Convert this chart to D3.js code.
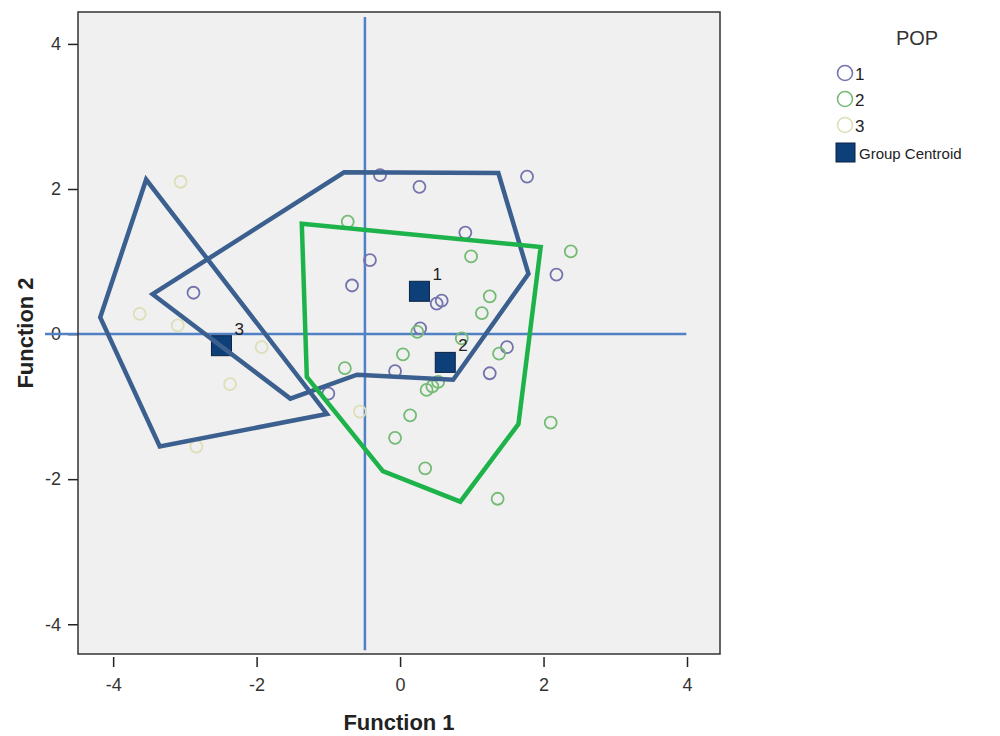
<!DOCTYPE html>
<html>
<head>
<meta charset="utf-8">
<script src="https://cdn.jsdelivr.net/npm/d3@7.9.0/dist/d3.min.js"></script>
<style>
  body { margin: 0; background: #fff; }
  svg { display: block; font-family: Arial, "Liberation Sans", sans-serif; }
</style>
</head>
<body>
<div id="chart"></div>
<script>
// ---------- Data ----------
const xTicks = [-4, -2, 0, 2, 4];
const yTicks = [-4, -2, 0, 2, 4];

// discriminant scores per group: [function1, function2]
const pop1 = [
  [-0.28, 2.19], [0.27, 2.03], [1.77, 2.17], [0.91, 1.40], [2.18, 0.82],
  [-0.42, 1.02], [-0.67, 0.67], [0.51, 0.42], [0.58, 0.46], [0.28, 0.08],
  [-2.88, 0.57], [1.49, -0.18], [1.25, -0.54], [-0.07, -0.51], [-1.00, -0.82]
];
const pop2 = [
  [-0.73, 1.55], [0.99, 1.07], [2.38, 1.14], [1.25, 0.52], [1.14, 0.29],
  [0.24, 0.03], [0.86, -0.06], [1.38, -0.27], [0.04, -0.28], [-0.77, -0.47],
  [0.37, -0.77], [0.45, -0.72], [0.53, -0.66], [0.14, -1.12], [-0.07, -1.43],
  [0.35, -1.85], [2.10, -1.22], [1.36, -2.27]
];
const pop3 = [
  [-3.06, 2.10], [-3.63, 0.28], [-3.10, 0.12], [-1.93, -0.18],
  [-2.37, -0.69], [-2.84, -1.55], [-0.56, -1.07]
];

const centroidLabels = ['1', '2', '3'];
const centroids = [[0.27, 0.59], [0.63, -0.39], [-2.49, -0.16]];

// hull outlines drawn over the plot
const hullPop3 = [[-3.54, 2.13], [-4.18, 0.23], [-3.35, -1.55], [-1.02, -1.10]];
const hullPop1 = [
  [-3.45, 0.55], [-0.78, 2.23], [1.37, 2.22], [1.79, 0.83],
  [0.74, -0.63], [-0.60, -0.56], [-1.53, -0.89]
];
const hullPop2 = [
  [-1.37, 1.52], [1.96, 1.20], [1.65, -1.24], [0.84, -2.31],
  [-0.24, -1.89], [-1.30, -0.59]
];

// reference lines
const hLine = [[-4.95, 0], [3.99, 0]];
const vLine = [[-0.49, 4.37], [-0.49, -4.36]];

const groupNames = ['1', '2', '3'];
const groupColors = ['#7373ad', '#74bb74', '#dedeb8'];

// ---------- Layout ----------
const width = 1000, height = 736;
const plot = { left: 78, right: 720, top: 12, bottom: 654 };

const svg = d3.select('#chart').append('svg')
  .attr('width', width)
  .attr('height', height);

const x = d3.scaleLinear().domain([-4.49, 4.46]).range([plot.left, plot.right]);
const y = d3.scaleLinear().domain([-4.41, 4.44]).range([plot.bottom, plot.top]);

const fmt = (d) => String(d); // plain hyphen minus like the original

// plot background
svg.append('rect')
  .attr('x', plot.left).attr('y', plot.top)
  .attr('width', plot.right - plot.left)
  .attr('height', plot.bottom - plot.top)
  .attr('fill', '#f0f0f0');

// axes
const xAxis = svg.append('g')
  .attr('transform', `translate(0,${plot.bottom + 3})`)
  .call(d3.axisBottom(x).tickValues(xTicks).tickFormat(fmt).tickSize(10).tickSizeOuter(0).tickPadding(11));
xAxis.select('.domain').remove();

const yAxis = svg.append('g')
  .attr('transform', `translate(${plot.left},0)`)
  .call(d3.axisLeft(y).tickValues(yTicks).tickFormat(fmt).tickSize(10).tickSizeOuter(0).tickPadding(7));
yAxis.select('.domain').remove();

svg.selectAll('.tick line').attr('stroke', '#222').attr('stroke-width', 1.5);
svg.selectAll('.tick text')
  .attr('fill', '#333')
  .style('font-size', '18px');

// reference lines
const line = d3.line().x((d) => x(d[0])).y((d) => y(d[1]));
[hLine, vLine].forEach((seg) => {
  svg.append('path')
    .attr('d', line(seg))
    .attr('fill', 'none')
    .attr('stroke', '#4f81c4')
    .attr('stroke-width', 2.5);
});

// points
[pop1, pop2, pop3].forEach((pts, i) => {
  svg.append('g')
    .selectAll('circle')
    .data(pts)
    .join('circle')
    .attr('cx', (d) => x(d[0]))
    .attr('cy', (d) => y(d[1]))
    .attr('r', 6)
    .attr('fill', 'none')
    .attr('stroke', groupColors[i])
    .attr('stroke-width', 1.8);
});

// centroids
const cg = svg.append('g');
cg.selectAll('rect')
  .data(centroids)
  .join('rect')
  .attr('x', (d) => x(d[0]) - 10)
  .attr('y', (d) => y(d[1]) - 10)
  .attr('width', 20)
  .attr('height', 20)
  .attr('fill', '#0d3f78')
  .attr('stroke', '#0a2344')
  .attr('stroke-width', 1);
cg.selectAll('text')
  .data(centroids)
  .join('text')
  .attr('x', (d) => x(d[0]) + 13)
  .attr('y', (d) => y(d[1]) - 11)
  .attr('fill', '#222')
  .style('font-size', '17px')
  .text((d, i) => centroidLabels[i]);

// hull outlines
const closed = d3.line().x((d) => x(d[0])).y((d) => y(d[1])).curve(d3.curveLinearClosed);
[[hullPop3, '#3b5f8e'], [hullPop1, '#3b5f8e'], [hullPop2, '#1db34a']].forEach(([pts, c]) => {
  svg.append('path')
    .attr('d', closed(pts))
    .attr('fill', 'none')
    .attr('stroke', c)
    .attr('stroke-width', 4.5)
    .attr('stroke-linejoin', 'miter');
});

// frame
svg.append('rect')
  .attr('x', plot.left).attr('y', plot.top)
  .attr('width', plot.right - plot.left)
  .attr('height', plot.bottom - plot.top)
  .attr('fill', 'none')
  .attr('stroke', '#333')
  .attr('stroke-width', 1.5);

// axis titles
svg.append('text')
  .attr('x', 399).attr('y', 730)
  .attr('text-anchor', 'middle')
  .style('font-size', '22px').style('font-weight', 'bold')
  .attr('fill', '#222')
  .text('Function 1');

svg.append('text')
  .attr('transform', 'translate(33,333) rotate(-90)')
  .attr('text-anchor', 'middle')
  .style('font-size', '22px').style('font-weight', 'bold')
  .attr('fill', '#222')
  .text('Function 2');

// legend
const lg = svg.append('g');
lg.append('text')
  .attr('x', 917).attr('y', 45)
  .attr('text-anchor', 'middle')
  .style('font-size', '20px')
  .attr('fill', '#333')
  .text('POP');

groupNames.forEach((name, i) => {
  const cy = 73 + i * 26;
  lg.append('circle')
    .attr('cx', 845).attr('cy', cy).attr('r', 7.5)
    .attr('fill', 'none')
    .attr('stroke', groupColors[i])
    .attr('stroke-width', 1.6);
  lg.append('text')
    .attr('x', 855).attr('y', cy + 7)
    .style('font-size', '17px')
    .attr('fill', '#222')
    .text(name);
});
lg.append('rect')
  .attr('x', 836).attr('y', 143).attr('width', 19).attr('height', 19)
  .attr('fill', '#0d3f78').attr('stroke', '#0a2344');
lg.append('text')
  .attr('x', 859).attr('y', 159)
  .style('font-size', '15px')
  .attr('fill', '#222')
  .text('Group Centroid');
</script>
</body>
</html>
